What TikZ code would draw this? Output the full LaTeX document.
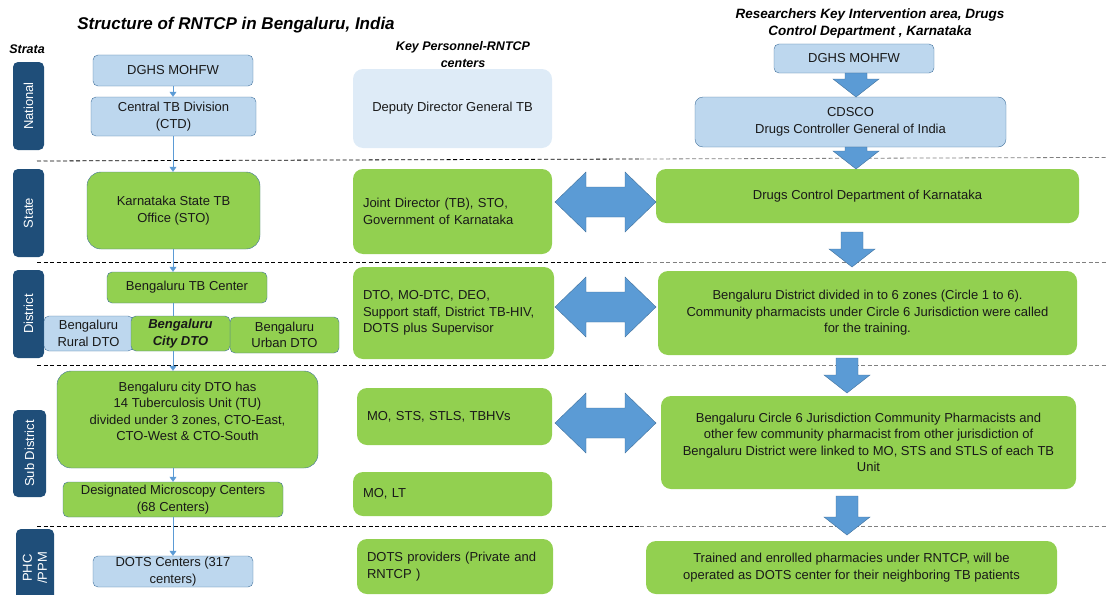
\documentclass[tikz,border=0pt]{standalone}
\usepackage{fontspec}
\setmainfont{Liberation Sans}
\usetikzlibrary{positioning,arrows.meta}

\definecolor{leafgreen}{HTML}{92D050}
\definecolor{paleblue}{HTML}{BDD7EE}
\definecolor{mistblue}{HTML}{DEEBF7}
\definecolor{boxline}{HTML}{41719C}
\definecolor{stratablue}{HTML}{1F4E79}
\definecolor{arrowblue}{HTML}{5B9BD5}

\tikzset{
  boxtext/.style={font=\fontsize{13}{16.5}\selectfont, text=black!90},
  lbox/.style={boxtext, draw=boxline, fill=paleblue, rounded corners=5pt, align=center, inner sep=1pt},
  gbox/.style={boxtext, draw=boxline, fill=leafgreen, rounded corners=5pt, align=center, inner sep=1pt},
  midbox/.style={boxtext, fill=leafgreen, rounded corners=10pt, align=left, inner xsep=10pt},
  rbox/.style={boxtext, fill=leafgreen, rounded corners=10pt, align=center, inner sep=1pt},
  stratum/.style={fill=stratablue, rounded corners=5pt, text=white, rotate=90, align=center,
    font=\fontsize{13}{15}\selectfont, inner sep=0pt},
  heading/.style={font=\fontsize{13.5}{17}\selectfont\bfseries\itshape, align=center},
  conn/.style={draw=arrowblue, -{Triangle[width=7pt,length=5pt]}},
  bigarrow/.style={fill=arrowblue, draw=boxline, line width=0.4pt, line join=miter},
  sepline/.style={dashed, dash pattern=on 4pt off 2.5pt, line width=0.8pt}
}

\begin{document}
\begin{tikzpicture}[x=1pt, y=-1pt]
\useasboundingbox (0,0) rectangle (1107,594);

\newcommand\blockdown[3]{% centre x, top, tip
  \filldraw[bigarrow] ({#1-11},#2) -- ({#1+11},#2) -- ({#1+11},{#3-18}) -- ({#1+23},{#3-18})
    -- (#1,#3) -- ({#1-23},{#3-18}) -- ({#1-11},{#3-18}) -- cycle;}
\newcommand\blocklr[1]{% centre y
  \filldraw[bigarrow] (555,#1) -- (586,{#1-30}) -- (586,{#1-15}) -- (625,{#1-15}) -- (625,{#1-30})
    -- (656,#1) -- (625,{#1+30}) -- (625,{#1+15}) -- (586,{#1+15}) -- (586,{#1+30}) -- cycle;}

% headings
\node[font=\fontsize{17}{20}\selectfont\bfseries\itshape] (title) at (236,25) {Structure of RNTCP in Bengaluru, India};
\node[font=\fontsize{12.5}{15}\selectfont\bfseries\itshape] (strata) at (27,49.5) {Strata};
\node[heading, font=\fontsize{12.5}{17}\selectfont\bfseries\itshape] (keyhead) at (463,54.5) {Key Personnel-RNTCP\\centers};
\node[heading] (reshead) at (870,23.5) {Researchers Key Intervention area, Drugs\\Control Department , Karnataka};

% strata bars
\node[stratum, minimum width=88pt, minimum height=31pt] (national) at (28.5,106) {National};
\node[stratum, minimum width=88pt, minimum height=31pt] (state) at (28.5,213) {State};
\node[stratum, minimum width=88pt, minimum height=31pt] (district) at (28.5,314) {District};
\node[stratum, minimum width=87pt, minimum height=33pt] (subdistrict) at (29.5,453.5) {Sub District};
\node[stratum, minimum width=78pt, minimum height=38pt] (phc) at (35,568) {PHC\\/PPM};

% separators
\draw[sepline] (37,161) -- (640,159);
\draw[sepline, gray] (640,159) -- (1107,157.4);
\foreach \y in {262,365,526} {
  \draw[sepline] (37,\y) -- (640,\y);
  \draw[sepline, gray] (640,\y) -- (1107,\y);
}

% RNTCP structure
\coordinate (spine) at (173,0);
\node[lbox, minimum width=160pt, minimum height=31pt] (dghsL) at (173,70.5) {DGHS MOHFW};
\node[lbox, minimum width=165pt, minimum height=39pt] (ctd) at (173.5,116.5) {Central TB Division\\(CTD)};
\node[gbox, rounded corners=14pt, minimum width=173pt, minimum height=77pt] (sto) at (173.5,210.5) {Karnataka State TB\\Office (STO)};
\node[gbox, minimum width=160pt, minimum height=31pt] (tbc) at (187,287.5) {Bengaluru TB Center};
\node[lbox, minimum width=89pt, minimum height=35pt] (rural) at (88.5,333.5) {Bengaluru\\Rural DTO};
\node[gbox, minimum width=109pt, minimum height=36pt] (urban) at (284.5,335) {Bengaluru\\Urban DTO};
\node[gbox, minimum width=99pt, minimum height=35pt, font=\fontsize{13}{16.5}\selectfont\bfseries\itshape] (city) at (180.5,333.5) {Bengaluru\\City DTO};
\node[gbox, rounded corners=14pt, minimum width=261pt, minimum height=97pt] (cityhas) at (187.5,419.5)
  {Bengaluru city DTO has\\14 Tuberculosis Unit (TU)\\divided under 3 zones, CTO-East,\\CTO-West \& CTO-South\\[0pt]\mbox{}};
\node[gbox, minimum width=220pt, minimum height=35pt] (dmc) at (173,499.5) {Designated Microscopy Centers\\(68 Centers)};
\node[lbox, minimum width=160pt, minimum height=31pt] (dotsc) at (173,571.5) {DOTS Centers (317\\centers)};

\draw[conn] (dghsL.south -| spine) -- (ctd.north -| spine);
\draw[conn] (ctd.south -| spine) -- (sto.north -| spine);
\draw[conn] (sto.south -| spine) -- (tbc.north -| spine);
\draw[draw=arrowblue] (tbc.south -| spine) -- (city.north -| spine);
\draw[conn] (city.south -| spine) -- (cityhas.north -| spine);
\draw[conn] (cityhas.south -| spine) -- (dmc.north -| spine);
\draw[conn] (dmc.south -| spine) -- (dotsc.north -| spine);

% key personnel
\node[boxtext, fill=mistblue, rounded corners=10pt, minimum width=199pt, minimum height=79pt] (ddg) at (452.5,108.5) {Deputy Director General TB};
\node[midbox, text width=179pt, minimum height=85pt] (jd) at (452.5,211.5) {Joint Director (TB), STO,\\Government of Karnataka};
\node[midbox, text width=181pt, minimum height=92pt] (dtos) at (453.5,313) {DTO, MO-DTC, DEO,\\Support staff, District TB-HIV,\\DOTS plus Supervisor};
\node[midbox, text width=175pt, minimum height=57pt] (mosts) at (454.5,416.5) {MO, STS, STLS, TBHVs};
\node[midbox, text width=179pt, minimum height=44pt] (molt) at (452.5,494) {MO, LT};
\node[midbox, text width=176pt, minimum height=55pt] (dotsp) at (455,566.5) {DOTS providers (Private and\\RNTCP )};

% intervention area
\node[lbox, minimum width=160pt, minimum height=29pt] (dghsR) at (854,58.5) {DGHS MOHFW};
\node[lbox, rounded corners=8pt, minimum width=311pt, minimum height=50pt] (cdsco) at (850.5,122) {CDSCO\\Drugs Controller General of India};
\node[rbox, minimum width=423pt, minimum height=54pt] (dcd) at (867.5,196) {Drugs Control Department of Karnataka};
\node[rbox, minimum width=419pt, minimum height=84pt] (dist) at (867.5,313)
  {Bengaluru District divided in to 6 zones (Circle 1 to 6).\\Community pharmacists under Circle 6 Jurisdiction were called\\for the training.};
\node[rbox, minimum width=415pt, minimum height=93pt] (circ) at (868.5,442.5)
  {Bengaluru Circle 6 Jurisdiction Community Pharmacists and\\other few community pharmacist from other jurisdiction of\\Bengaluru District were linked to MO, STS and STLS of each TB\\Unit};
\node[rbox, minimum width=411pt, minimum height=53pt] (trained) at (851.5,567.5)
  {Trained and enrolled pharmacies under RNTCP, will be\\operated as DOTS center for their neighboring TB patients};

\blockdown{856}{73}{97}
\blockdown{856}{147}{169}
\blockdown{852}{232}{267}
\blockdown{847}{358}{393}
\blockdown{847}{496}{535}

\blocklr{202}
\blocklr{307}
\blocklr{423}

\end{tikzpicture}
\end{document}
